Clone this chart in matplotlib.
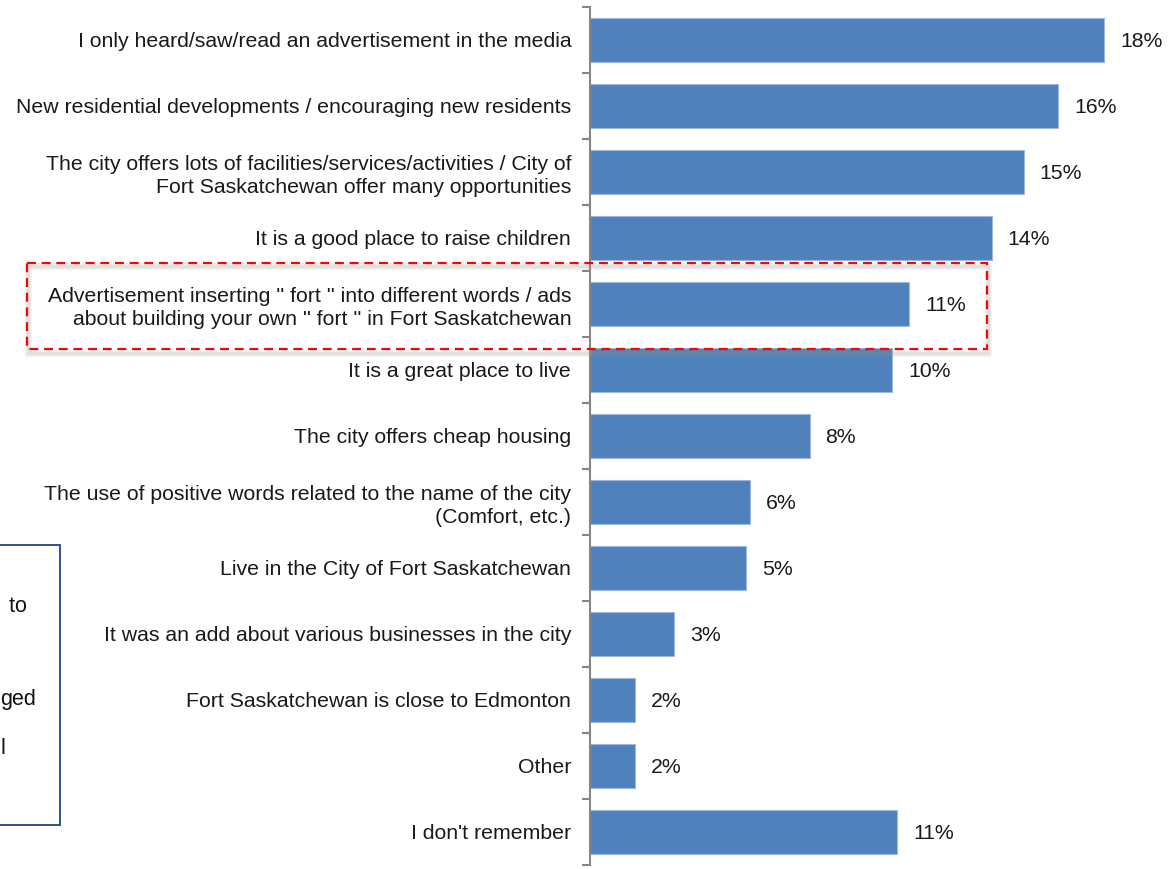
import numpy as np
import matplotlib.pyplot as plt
from matplotlib.patches import Rectangle

plt.rcParams['font.family'] = ['Liberation Sans', 'DejaVu Sans']

labels = [
    "I only heard/saw/read an advertisement in the media",
    "New residential developments / encouraging new residents",
    "The city offers lots of facilities/services/activities / City of\nFort Saskatchewan offer many opportunities",
    "It is a good place to raise children",
    "Advertisement inserting '' fort '' into different words / ads\nabout building your own '' fort '' in Fort Saskatchewan",
    "It is a great place to live",
    "The city offers cheap housing",
    "The use of positive words related to the name of the city\n(Comfort, etc.)",
    "Live in the City of Fort Saskatchewan",
    "It was an add about various businesses in the city",
    "Fort Saskatchewan is close to Edmonton",
    "Other",
    "I don't remember",
]
values = [17.8, 16.2, 15.0, 13.9, 11.05, 10.45, 7.6, 5.55, 5.4, 2.92, 1.55, 1.55, 10.63]

# partly hidden note box at the left edge
note_lines = [" to", "ged", "l"]

W, H = 1176, 869
fig = plt.figure(figsize=(W / 100, H / 100), dpi=100)
ax = fig.add_axes([590 / W, 4.3 / H, 578 / W, 858 / H])

n = len(values)
y = np.arange(n)
ax.barh(y, values, height=0.667, color='#4F81BD', edgecolor='#9DB9DD', linewidth=0.8, zorder=2)
for yi, v in zip(y, values):
    ax.annotate(f"{v:.0f}%", (v, yi), xytext=(11.5, -1.5), textcoords='offset points',
                ha='left', va='center', fontsize=15.3, color='#1a1a1a')

ax.set_xlim(0, 20)
ax.set_ylim(n - 0.5, -0.5)
for s in ['top', 'right', 'bottom']:
    ax.spines[s].set_visible(False)
ax.spines['left'].set_color('#868686')
ax.spines['left'].set_linewidth(1.5)
ax.set_xticks([])
ax.set_yticks(y)
ax.set_yticklabels(labels, fontsize=15.3, color='#1a1a1a', linespacing=1.3)
ax.tick_params(axis='y', which='major', length=0, pad=13.5)
ax.set_yticks(np.arange(n + 1) - 0.5, minor=True)
ax.tick_params(axis='y', which='minor', length=6, width=1.5, color='#868686')

# overlay in pixel coordinates for the highlight and note boxes
ov = fig.add_axes([0, 0, 1, 1], facecolor='none')
ov.set_xlim(0, W)
ov.set_ylim(H, 0)
ov.axis('off')

# soft shadow under the dashed frame
for off, lw, a in [(3.5, 5, 0.12), (3.5, 2.5, 0.2)]:
    ov.add_patch(Rectangle((26.7 + off * 0.5, 262.7 + off), 960, 86.6, fill=False,
                           edgecolor='#999999', linewidth=lw, alpha=a))
ov.add_patch(Rectangle((26.7, 262.7), 960, 86.6, fill=False, edgecolor='#FF0000',
                       linewidth=1.6, linestyle=(0, (4, 2.6))))

ov.add_patch(Rectangle((-10, 545), 70, 280, fill=False, edgecolor='#2E528F', linewidth=1.4))
for txt, xl, yc in zip(note_lines, [3, 0.5, 0.5], [606, 699, 748]):
    ov.text(xl, yc, txt, ha='left', va='center', fontsize=15.5, color='#111111')

fig.savefig('out.png', dpi=100)
